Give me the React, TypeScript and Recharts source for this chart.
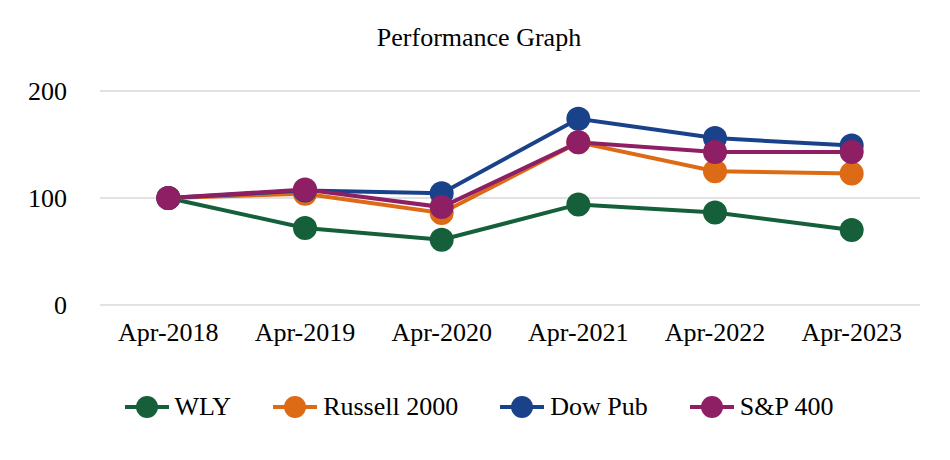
import React from 'react';
import { LineChart, Line, XAxis, YAxis, CartesianGrid, Legend } from 'recharts';

const categories = ['Apr-2018', 'Apr-2019', 'Apr-2020', 'Apr-2021', 'Apr-2022', 'Apr-2023'];
const wly = [100, 72, 61, 94, 86.5, 70];
const russell2000 = [100, 104, 86, 152, 125, 123];
const dowPub = [100, 107, 104.5, 174, 156, 149];
const sp400 = [100, 108, 91.5, 152, 143, 143];
const yTicks = [0, 100, 200];

const seriesDefs = [
  { key: 'wly', name: 'WLY', color: '#15603a', values: wly },
  { key: 'russell', name: 'Russell 2000', color: '#dd6a14', values: russell2000 },
  { key: 'dow', name: 'Dow Pub', color: '#1a428a', values: dowPub },
  { key: 'sp', name: 'S&P 400', color: '#8e1f65', values: sp400 },
];

const data = categories.map((c, i) => {
  const row: Record<string, any> = { category: c };
  seriesDefs.forEach((s) => {
    row[s.key] = s.values[i];
  });
  return row;
});

const FONT = '"Liberation Serif", "Times New Roman", serif';

const LegendContent = () => (
  <div
    style={{
      height: 50,
      display: 'flex',
      justifyContent: 'center',
      alignItems: 'center',
      fontFamily: FONT,
      fontSize: 26,
      color: '#000',
    }}
  >
    {seriesDefs.map((s, i) => (
      <div
        key={s.key}
        style={{ display: 'flex', alignItems: 'center', marginLeft: i === 0 ? 0 : 42 }}
      >
        <svg width={44} height={24} style={{ display: 'block' }}>
          <line x1={0} y1={12} x2={44} y2={12} stroke={s.color} strokeWidth={4} />
          <circle cx={22} cy={12} r={11} fill={s.color} />
        </svg>
        <span style={{ marginLeft: 6, lineHeight: '26px' }}>{s.name}</span>
      </div>
    ))}
  </div>
);

export default function App() {
  return (
    <div style={{ position: 'relative', width: 942, height: 452, background: '#fff' }}>
      <div
        style={{
          position: 'absolute',
          top: 17,
          left: 0,
          width: 942,
          textAlign: 'center',
          fontFamily: FONT,
          fontSize: 26,
          lineHeight: '26px',
          color: '#000',
        }}
      >
        Performance Graph
      </div>
      <LineChart
        width={942}
        height={452}
        data={data}
        margin={{ top: 83, right: 30, bottom: 28, left: 0 }}
      >
        <CartesianGrid vertical={false} stroke="#d9d9d9" strokeWidth={1.5} />
        <XAxis
          dataKey="category"
          scale="band"
          axisLine={false}
          tickLine={false}
          tickSize={0}
          tickMargin={18}
          height={77}
          interval={0}
          tick={{ fill: '#000', fontSize: 26, fontFamily: FONT }}
        />
        <YAxis
          domain={[0, 200]}
          ticks={yTicks}
          axisLine={false}
          tickLine={false}
          tickSize={0}
          tickMargin={33}
          width={92}
          tick={{ fill: '#000', fontSize: 26, fontFamily: FONT }}
        />
        <Legend
          verticalAlign="bottom"
          content={<LegendContent />}
          wrapperStyle={{ left: 0, width: 942 }}
        />
        {seriesDefs.map((s) => (
          <Line
            key={s.key}
            dataKey={s.key}
            name={s.name}
            stroke={s.color}
            strokeWidth={4}
            dot={{ r: 12, fill: s.color, stroke: s.color, strokeWidth: 0 }}
            activeDot={false}
            isAnimationActive={false}
          />
        ))}
      </LineChart>
    </div>
  );
}
